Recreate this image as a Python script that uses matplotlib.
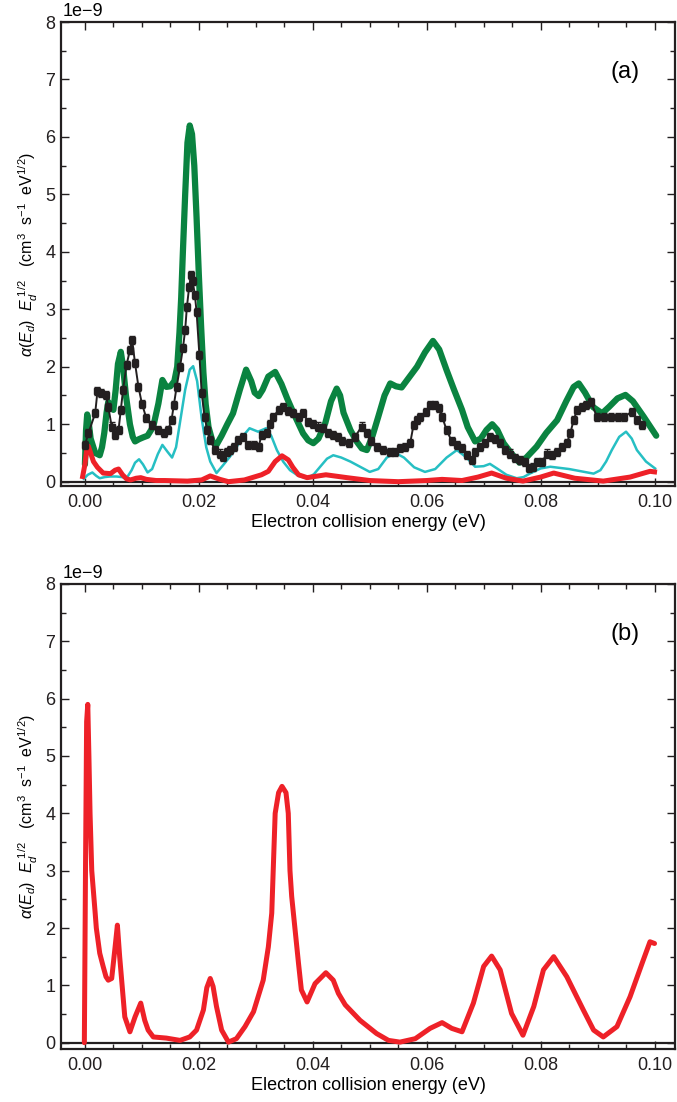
import matplotlib
matplotlib.use('Agg')
import matplotlib.pyplot as plt
from matplotlib.ticker import FixedLocator, FormatStrFormatter

plt.rcParams['font.family'] = ['Liberation Sans', 'DejaVu Sans']
plt.rcParams['mathtext.fontset'] = 'custom'
plt.rcParams['mathtext.rm'] = 'Liberation Sans'
plt.rcParams['mathtext.it'] = 'Liberation Sans:italic'

# values, y in units of 1e-9
green_x = [0.0, 0.0002, 0.0004, 0.0007, 0.001, 0.0018, 0.0026, 0.003, 0.0034, 0.0038,
           0.0041, 0.0045, 0.005, 0.0054, 0.0058, 0.0063, 0.0067, 0.0072, 0.0079, 0.0084,
           0.0088, 0.0095, 0.0102, 0.011, 0.012, 0.0129, 0.0136, 0.0143, 0.015, 0.0157,
           0.0162, 0.0166, 0.0169, 0.0172, 0.0176, 0.018, 0.0184, 0.0188, 0.0192, 0.0196,
           0.02, 0.0204, 0.0208, 0.0212, 0.0217, 0.0224, 0.0231, 0.024, 0.025, 0.026,
           0.0272, 0.0283, 0.0292, 0.0298, 0.0305, 0.0312, 0.0322, 0.0334, 0.0345, 0.0355,
           0.0366, 0.0383, 0.0392, 0.0401, 0.041, 0.0422, 0.0432, 0.0442, 0.0448, 0.0454,
           0.0466, 0.0477, 0.0486, 0.0495, 0.0505, 0.0515, 0.0526, 0.0536, 0.0546, 0.0556,
           0.0568, 0.0583, 0.0597, 0.0611, 0.0622, 0.0635, 0.0648, 0.0662, 0.0672, 0.0685,
           0.0695, 0.0705, 0.0715, 0.0724, 0.0735, 0.0748, 0.0763, 0.0775, 0.0793, 0.081,
           0.0829, 0.0845, 0.0858, 0.0867, 0.0878, 0.0892, 0.0908, 0.092, 0.0935, 0.0949,
           0.0962, 0.0981, 0.1003]
green_y = [0.3, 0.9, 1.17, 1.0, 0.75, 0.5, 0.46, 0.6, 0.85, 1.2,
           1.39, 1.3, 1.25, 1.6, 2.05, 2.26, 2.0, 1.5, 1.0, 0.78,
           0.7, 0.74, 0.77, 0.8, 0.96, 1.36, 1.77, 1.65, 1.66, 1.75,
           2.0, 2.6, 3.2, 4.0, 5.0, 5.9, 6.2, 6.05, 5.5, 4.6,
           3.6, 2.7, 1.9, 1.35, 0.95, 0.7, 0.64, 0.8, 1.0, 1.19,
           1.6, 1.95, 1.75, 1.55, 1.49, 1.6, 1.83, 1.91, 1.7, 1.45,
           1.2, 0.84, 0.72, 0.67, 0.75, 1.02, 1.4, 1.62, 1.5, 1.2,
           0.9, 0.7, 0.58, 0.55, 0.8, 1.13, 1.5, 1.71, 1.66, 1.64,
           1.8, 2.0, 2.25, 2.45, 2.3, 1.94, 1.6, 1.25, 0.95, 0.7,
           0.75, 0.9, 1.0, 0.9, 0.67, 0.5, 0.33, 0.42, 0.61, 0.85,
           1.07, 1.4, 1.65, 1.71, 1.55, 1.3, 1.19, 1.3, 1.45, 1.51,
           1.4, 1.13, 0.8]

cyan_x = [-0.0002, 0.0005, 0.0013, 0.002, 0.0026, 0.0035, 0.0044, 0.0055, 0.0065, 0.0073,
          0.0082, 0.0088, 0.0095, 0.0102, 0.011, 0.0118, 0.0128, 0.0136, 0.0145, 0.0153,
          0.016, 0.0168, 0.0176, 0.0184, 0.019, 0.0197, 0.0205, 0.0213, 0.022, 0.0231,
          0.0242, 0.0255, 0.0265, 0.0278, 0.0289, 0.0304, 0.0318, 0.0327, 0.0337, 0.0348,
          0.036, 0.0375, 0.039, 0.0402, 0.0413, 0.0425, 0.0436, 0.045, 0.0466, 0.0483,
          0.05, 0.0515, 0.053, 0.0545, 0.056, 0.0578, 0.0597, 0.0615, 0.0635, 0.0653,
          0.067, 0.0685, 0.07, 0.0711, 0.0725, 0.074, 0.0758, 0.077, 0.0781, 0.08,
          0.0817, 0.085, 0.0893, 0.0905, 0.0915, 0.0925, 0.0938, 0.095, 0.096, 0.0969,
          0.0985, 0.1001]
cyan_y = [0.05, 0.12, 0.16, 0.1, 0.06, 0.08, 0.09, 0.09, 0.08, 0.06,
          0.2, 0.33, 0.39, 0.3, 0.16, 0.22, 0.48, 0.64, 0.52, 0.42,
          0.6, 1.1, 1.6, 1.95, 2.01, 1.75, 1.1, 0.6, 0.35, 0.15,
          0.28, 0.44, 0.58, 0.8, 0.93, 0.87, 0.93, 0.8, 0.55, 0.35,
          0.2, 0.1, 0.06, 0.13, 0.26, 0.4, 0.46, 0.42, 0.35, 0.26,
          0.17, 0.22, 0.42, 0.5, 0.42, 0.25, 0.17, 0.22, 0.42, 0.55,
          0.42, 0.26, 0.27, 0.31, 0.22, 0.12, 0.06, 0.08, 0.14, 0.23,
          0.26, 0.22, 0.14, 0.2, 0.35, 0.55, 0.78, 0.87, 0.75, 0.55,
          0.35, 0.23]

red_a_x = [-0.0004, 0.0, 0.0003, 0.0006, 0.001, 0.0015, 0.0022, 0.0032, 0.0045, 0.0053,
           0.0059, 0.0066, 0.0073, 0.008, 0.009, 0.0098, 0.0108, 0.0125, 0.014, 0.018,
           0.0205, 0.022, 0.0237, 0.0252, 0.028, 0.031, 0.0322, 0.0334, 0.0346, 0.0357,
           0.0365, 0.0375, 0.039, 0.0423, 0.046, 0.05, 0.055, 0.06, 0.0627, 0.0662,
           0.069, 0.0714, 0.074, 0.0769, 0.08, 0.0823, 0.086, 0.091, 0.0957, 0.0992,
           0.1]
red_a_y = [0.09, 0.3, 0.55, 0.62, 0.5, 0.35, 0.25, 0.15, 0.14, 0.2,
           0.22, 0.12, 0.05, 0.03, 0.06, 0.07, 0.04, 0.02, 0.02, 0.01,
           0.03, 0.1, 0.04, 0.0, 0.03, 0.12, 0.18, 0.35, 0.45, 0.38,
           0.25, 0.12, 0.07, 0.12, 0.07, 0.02, 0.0, 0.02, 0.04, 0.02,
           0.08, 0.15, 0.06, 0.01, 0.08, 0.15, 0.06, 0.01, 0.08, 0.18,
           0.17]

data_x = [0.0, 0.0006, 0.0018, 0.0022, 0.0028, 0.0037, 0.0041, 0.0047, 0.0053, 0.0059,
          0.0063, 0.0067, 0.0073, 0.0079, 0.0083, 0.0088, 0.0094, 0.0100, 0.0108, 0.0117,
          0.0129, 0.0138, 0.0146, 0.0152, 0.0156, 0.0161, 0.0167, 0.0172, 0.0176, 0.0179,
          0.0183, 0.0186, 0.0189, 0.0193, 0.0196, 0.0201, 0.0205, 0.021, 0.0215, 0.022,
          0.0228, 0.0237, 0.0243, 0.0249, 0.0255, 0.0261, 0.0269, 0.0278, 0.0287, 0.0296,
          0.0305, 0.031, 0.0319, 0.0325, 0.0331, 0.034, 0.0348, 0.0357, 0.0366, 0.0375,
          0.0383, 0.0392, 0.0401, 0.041, 0.0418, 0.0427, 0.0436, 0.0445, 0.0451, 0.0463,
          0.0474, 0.0486, 0.0495, 0.0503, 0.0512, 0.0524, 0.0536, 0.0545, 0.0553, 0.0562,
          0.0571, 0.0577, 0.0583, 0.0589, 0.0598, 0.0606, 0.0615, 0.0621, 0.0627, 0.0635,
          0.0644, 0.0653, 0.0662, 0.067, 0.0679, 0.0685, 0.0694, 0.0703, 0.0711, 0.072,
          0.0729, 0.0738, 0.0747, 0.0755, 0.0764, 0.0773, 0.078, 0.0787, 0.0794, 0.0803,
          0.0811, 0.082, 0.0829, 0.0837, 0.0846, 0.0852, 0.0858, 0.0864, 0.0872, 0.088,
          0.0888, 0.0899, 0.0911, 0.0923, 0.0935, 0.0946, 0.0961, 0.097, 0.0978]
data_y = [0.64, 0.84, 1.19, 1.57, 1.55, 1.51, 1.30, 0.96, 0.81, 0.90,
          1.25, 1.6, 2.03, 2.29, 2.46, 2.06, 1.65, 1.36, 1.10, 0.98,
          0.90, 0.84, 0.90, 1.07, 1.33, 1.65, 2.0, 2.32, 2.64, 3.04,
          3.39, 3.59, 3.5, 3.25, 2.96, 2.2, 1.54, 1.13, 0.90, 0.73,
          0.55, 0.49, 0.43, 0.52, 0.55, 0.61, 0.73, 0.78, 0.64, 0.64,
          0.61, 0.81, 0.84, 1.0, 1.13, 1.25, 1.30, 1.23, 1.2, 1.13,
          1.2, 1.04, 1.0, 0.96, 0.93, 0.84, 0.81, 0.78, 0.70, 0.67,
          0.78, 0.96, 0.84, 0.70, 0.61, 0.55, 0.52, 0.52, 0.58, 0.61,
          0.67, 0.99, 1.07, 1.13, 1.22, 1.33, 1.33, 1.28, 1.13, 0.90,
          0.70, 0.64, 0.58, 0.46, 0.38, 0.52, 0.61, 0.67, 0.78, 0.75,
          0.67, 0.55, 0.49, 0.41, 0.38, 0.35, 0.23, 0.26, 0.35, 0.35,
          0.49, 0.46, 0.52, 0.61, 0.67, 0.84, 1.07, 1.25, 1.30, 1.33,
          1.39, 1.13, 1.13, 1.13, 1.13, 1.13, 1.22, 1.07, 0.99]
data_err = 0.07

red_b_x = [-0.0001, 0.0001, 0.0003, 0.0005, 0.0007, 0.0009, 0.0012, 0.0018, 0.002, 0.0026,
           0.0032, 0.0037, 0.0041, 0.0047, 0.0053, 0.0057, 0.0061, 0.0067, 0.007, 0.0079,
           0.0088, 0.0098, 0.0105, 0.0111, 0.012, 0.0143, 0.0167, 0.0184, 0.0196, 0.0208,
           0.0214, 0.022, 0.0225, 0.0231, 0.024, 0.0252, 0.0266, 0.0281, 0.0296, 0.0313,
           0.0322, 0.0328, 0.0334, 0.034, 0.0346, 0.0353, 0.0357, 0.036, 0.0363, 0.0375,
           0.038, 0.039, 0.0404, 0.0423, 0.0436, 0.0445, 0.0457, 0.0483, 0.0512, 0.0533,
           0.0553, 0.058, 0.0606, 0.0627, 0.0644, 0.0662, 0.0682, 0.07, 0.0714, 0.0729,
           0.0749, 0.0769, 0.0788, 0.0805, 0.0823, 0.0846, 0.0875, 0.0893, 0.091, 0.0934,
           0.0957, 0.0978, 0.0992, 0.1]
red_b_y = [0.0, 3.0, 5.6, 5.9, 5.0, 4.0, 3.0, 2.26, 2.0, 1.56,
           1.33, 1.15, 1.09, 1.12, 1.67, 2.05, 1.5, 0.8, 0.45, 0.19,
           0.45, 0.69, 0.39, 0.22, 0.1, 0.08, 0.04, 0.1, 0.22, 0.57,
           0.96, 1.12, 0.98, 0.63, 0.22, 0.01, 0.07, 0.28, 0.54, 1.09,
           1.67, 2.26, 4.0, 4.36, 4.47, 4.36, 4.0, 3.0, 2.55, 1.38,
           0.92, 0.71, 1.03, 1.22, 1.09, 0.86, 0.66, 0.39, 0.16, 0.04,
           0.01, 0.07, 0.25, 0.35, 0.25, 0.19, 0.69, 1.33, 1.51, 1.27,
           0.51, 0.13, 0.63, 1.27, 1.5, 1.15, 0.57, 0.22, 0.10, 0.28,
           0.8, 1.38, 1.76, 1.73]

x_major = [0.0, 0.02, 0.04, 0.06, 0.08, 0.10]
x_minor = [0.005 * i for i in range(21)]
y_major = [i * 1e-9 for i in range(9)]
y_minor = [i * 0.5e-9 for i in range(17)]

GREEN = '#0a8340'
CYAN = '#26bfc3'
RED = '#ee2128'
BLACK = '#231f20'

ylab = r'$\alpha(E_d)\ \ E_d^{\ 1/2}$   (cm$^3$  s$^{-1}$  eV$^{1/2}$)'


def style(ax, ymin, tag):
    ax.set_xlim(-0.0042, 0.1036)
    ax.set_ylim(ymin * 1e-9, 8e-9)
    ax.axhline(0, color=BLACK, lw=1.6, zorder=1)
    ax.xaxis.set_major_locator(FixedLocator(x_major))
    ax.xaxis.set_minor_locator(FixedLocator(x_minor))
    ax.xaxis.set_major_formatter(FormatStrFormatter('%.2f'))
    ax.yaxis.set_major_locator(FixedLocator(y_major))
    ax.yaxis.set_minor_locator(FixedLocator(y_minor))
    ax.tick_params(which='both', direction='in', top=True, right=True,
                   labelsize=13, colors=BLACK)
    ax.tick_params(which='major', length=6, width=1.0, pad=6)
    ax.tick_params(which='minor', length=3.5, width=1.0)
    ax.tick_params(axis='y', pad=4)
    for s in ax.spines.values():
        s.set_linewidth(1.6)
        s.set_color(BLACK)
    ax.set_xlabel('Electron collision energy (eV)', fontsize=13, labelpad=2)
    ax.set_ylabel(ylab, fontsize=11.5, labelpad=4)
    ax.text(0.918, 0.892, tag, transform=ax.transAxes, fontsize=17,
            ha='center', va='center')
    ax.text(0.003, 1.005, '1e\u22129', transform=ax.transAxes, fontsize=13,
            ha='left', va='bottom')


fig = plt.figure(figsize=(6.77, 11.02), dpi=100)
ax1 = fig.add_axes([0.0901, 0.559, 0.907, 0.421])
ax2 = fig.add_axes([0.0901, 0.0481, 0.907, 0.422])

# (a)
ax1.plot(green_x, [v * 1e-9 for v in green_y], color=GREEN, lw=4.5,
         solid_joinstyle='round', solid_capstyle='round', zorder=2)
ax1.plot(cyan_x, [v * 1e-9 for v in cyan_y], color=CYAN, lw=1.8, zorder=3)
ax1.plot(red_a_x, [v * 1e-9 for v in red_a_y], color=RED, lw=3.6,
         solid_joinstyle='round', zorder=4)
ax1.errorbar(data_x, [v * 1e-9 for v in data_y], yerr=data_err * 1e-9,
             color=BLACK, lw=1.4, marker='s', ms=4.8, capsize=2, elinewidth=1,
             zorder=5)
style(ax1, -0.075, '(a)')

# (b)
ax2.plot(red_b_x, [v * 1e-9 for v in red_b_y], color=RED, lw=3.6,
         solid_joinstyle='round', solid_capstyle='round', zorder=4)
style(ax2, -0.11, '(b)')

# labels 0..8 with the exponent shown separately, as in the reference
for ax in (ax1, ax2):
    ax.set_yticklabels([str(i) for i in range(9)])

fig.savefig('out.png', dpi=100)
